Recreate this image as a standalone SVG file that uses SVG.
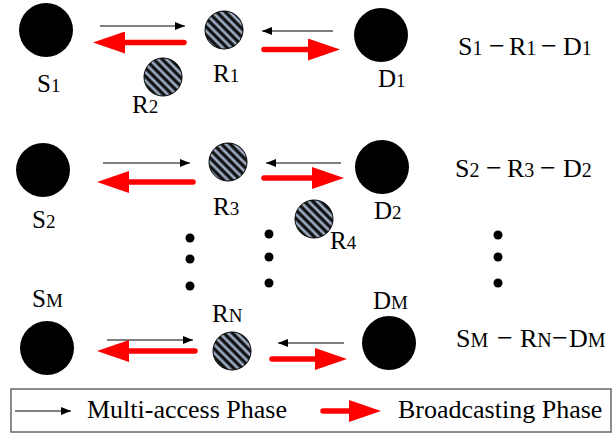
<svg xmlns="http://www.w3.org/2000/svg" width="612" height="433" viewBox="0 0 612 433">
<style>
  .src{fill:#000}
  .relay{fill:url(#stripes);stroke:#000;stroke-width:1}
  .lbl{font-family:"Liberation Serif","Times New Roman",serif;font-size:25px;fill:#000}
  .sub{font-size:19px}
  .pair{font-family:"Liberation Serif","Times New Roman",serif;font-size:26px;fill:#000}
  .psub{font-size:20px}
  .dash{font-size:28px}
  .thin{stroke:#000;stroke-width:1;fill:none;marker-end:url(#thinHead)}
  .red{stroke:#ff0000;stroke-width:5.5;stroke-linecap:round;fill:none;marker-end:url(#redHead)}
  .dot{fill:#000}
  .legend{fill:#fff;stroke:#666;stroke-width:1.5}
  .ltxt{font-family:"Liberation Serif","Times New Roman",serif;font-size:26px;fill:#000}
</style>
<defs>
  <linearGradient id="band" x1="0" y1="0" x2="1" y2="0">
    <stop offset="0" stop-color="#050505"/>
    <stop offset="0.3" stop-color="#151515"/>
    <stop offset="0.6" stop-color="#b8c6de"/>
    <stop offset="0.8" stop-color="#7d8ca4"/>
    <stop offset="1" stop-color="#050505"/>
  </linearGradient>
  <pattern id="stripes" width="6" height="6" patternUnits="userSpaceOnUse" patternTransform="rotate(-45)">
    <rect width="6" height="6" fill="url(#band)"/>
  </pattern>
  <marker id="thinHead" viewBox="0 0 10 8" markerWidth="10" markerHeight="8" refX="10" refY="4" orient="auto" markerUnits="userSpaceOnUse">
    <path d="M0,0 L10,4 L0,8 z" fill="#000"/>
  </marker>
  <marker id="redHead" viewBox="0 0 32 22" markerWidth="32" markerHeight="22" refX="1" refY="11" orient="auto" markerUnits="userSpaceOnUse">
    <path d="M0,0 L32,11 L0,22 z" fill="#ff0000"/>
  </marker>
</defs>

<g id="connectors">
  <line class="thin" x1="100" y1="26" x2="185" y2="26"/>
  <line class="thin" x1="333" y1="31" x2="262" y2="31"/>
  <line class="red" x1="184" y1="42.5" x2="124" y2="42.5"/>
  <line class="red" x1="264" y1="49.5" x2="309" y2="49.5"/>

  <line class="thin" x1="103" y1="163" x2="190" y2="163"/>
  <line class="thin" x1="341" y1="163" x2="266" y2="163"/>
  <line class="red" x1="193" y1="182" x2="128" y2="182"/>
  <line class="red" x1="264" y1="178" x2="313" y2="178"/>

  <line class="thin" x1="107" y1="340" x2="193" y2="340"/>
  <line class="thin" x1="344" y1="343" x2="278" y2="343"/>
  <line class="red" x1="195" y1="351" x2="128" y2="351"/>
  <line class="red" x1="272" y1="359" x2="316" y2="359"/>
</g>

<g id="S1"><circle class="src" cx="46" cy="30" r="27"/><text class="lbl" x="37" y="92">S<tspan class="sub">1</tspan></text></g>
<g id="R1"><circle class="relay" cx="224" cy="30" r="19"/><text class="lbl" x="213" y="82">R<tspan class="sub">1</tspan></text></g>
<g id="D1"><circle class="src" cx="381" cy="35" r="27"/><text class="lbl" x="378" y="87">D<tspan class="sub">1</tspan></text></g>
<g id="R2"><circle class="relay" cx="163" cy="77" r="19"/><text class="lbl" x="132" y="113">R<tspan class="sub">2</tspan></text></g>

<g id="S2"><circle class="src" cx="43" cy="170" r="27"/><text class="lbl" x="32" y="228">S<tspan class="sub">2</tspan></text></g>
<g id="R3"><circle class="relay" cx="228" cy="162" r="19"/><text class="lbl" x="213" y="215">R<tspan class="sub">3</tspan></text></g>
<g id="D2"><circle class="src" cx="382" cy="167" r="27"/><text class="lbl" x="374" y="219">D<tspan class="sub">2</tspan></text></g>
<g id="R4"><circle class="relay" cx="314" cy="219" r="19"/><text class="lbl" x="330" y="249">R<tspan class="sub">4</tspan></text></g>

<g id="SM"><circle class="src" cx="47" cy="348" r="27"/><text class="lbl" x="32" y="307">S<tspan class="sub">M</tspan></text></g>
<g id="RN"><circle class="relay" cx="232" cy="351" r="19"/><text class="lbl" x="212" y="322">R<tspan class="sub">N</tspan></text></g>
<g id="DM"><circle class="src" cx="389" cy="343" r="27"/><text class="lbl" x="373" y="309">D<tspan class="sub">M</tspan></text></g>

<g id="dots">
  <circle class="dot" cx="190" cy="238" r="4.5"/>
  <circle class="dot" cx="190" cy="259" r="4.5"/>
  <circle class="dot" cx="190" cy="286" r="4.5"/>
  <circle class="dot" cx="269" cy="234" r="4.5"/>
  <circle class="dot" cx="269" cy="257" r="4.5"/>
  <circle class="dot" cx="269" cy="283" r="4.5"/>
  <circle class="dot" cx="498" cy="235" r="4.5"/>
  <circle class="dot" cx="498" cy="257" r="4.5"/>
  <circle class="dot" cx="498" cy="283" r="4.5"/>
</g>

<g id="pairs">
  <text class="pair" y="55"><tspan x="458">S</tspan><tspan class="psub">1</tspan><tspan class="dash" x="489">−</tspan><tspan x="509">R</tspan><tspan class="psub">1</tspan><tspan class="dash" x="541">−</tspan><tspan x="563">D</tspan><tspan class="psub">1</tspan></text>
  <text class="pair" y="177"><tspan x="455">S</tspan><tspan class="psub">2</tspan><tspan class="dash" x="486">−</tspan><tspan x="507">R</tspan><tspan class="psub">3</tspan><tspan class="dash" x="540">−</tspan><tspan x="563">D</tspan><tspan class="psub">2</tspan></text>
  <text class="pair" y="347"><tspan x="456">S</tspan><tspan class="psub">M</tspan><tspan class="dash" x="497">−</tspan><tspan x="520">R</tspan><tspan class="psub">N</tspan><tspan class="dash" x="552">−</tspan><tspan x="569">D</tspan><tspan class="psub">M</tspan></text>
</g>

<g id="legend">
  <rect class="legend" x="11" y="389" width="600" height="43"/>
  <line class="thin" x1="15" y1="411" x2="71" y2="411"/>
  <text class="ltxt" x="87" y="418">Multi-access Phase</text>
  <line class="red" x1="323" y1="411" x2="350" y2="411"/>
  <text class="ltxt" x="398" y="418">Broadcasting Phase</text>
</g>
</svg>
